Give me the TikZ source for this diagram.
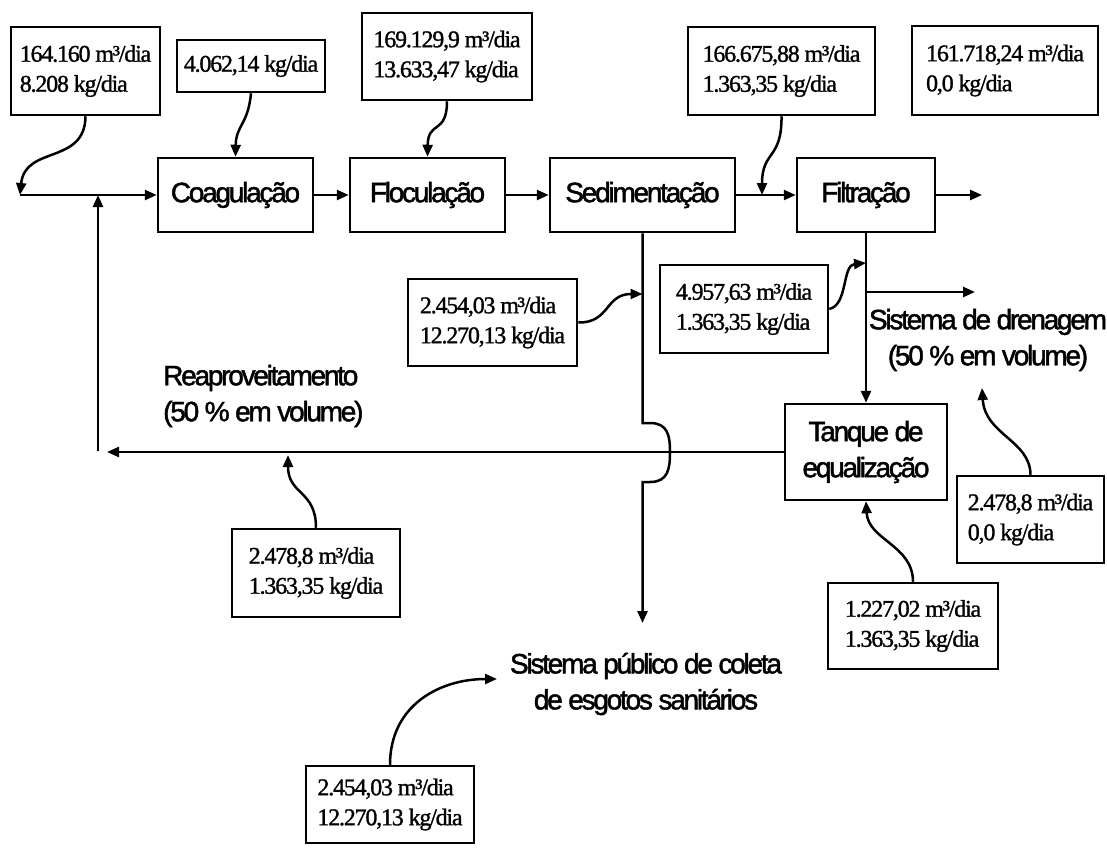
\documentclass[tikz,border=0pt]{standalone}
\usepackage{fontspec}
\usetikzlibrary{arrows.meta}
\newfontfamily\numfont[LetterSpace=-5,FakeBold=1.2]{Liberation Serif}
\newfontfamily\labfont[LetterSpace=-8,FakeBold=1.6]{Liberation Sans}
% quantity box: name, x1, y1, x2, y2, text
\newcommand\quantbox[6]{%
  \pgfmathsetmacro\qbw{#4-#2}\pgfmathsetmacro\qbh{#5-#3}%
  \node[numbox,minimum width=\qbw pt,minimum height=\qbh pt]
    (#1) at ({(#2+#4)/2},{(#3+#5)/2}) {#6};}
% process box: name, x1, y1, x2, y2, text
\newcommand\procbox[6]{%
  \pgfmathsetmacro\qbw{#4-#2}\pgfmathsetmacro\qbh{#5-#3}%
  \node[stagebox,minimum width=\qbw pt,minimum height=\qbh pt]
    (#1) at ({(#2+#4)/2},{(#3+#5)/2}) {#6};}
\begin{document}
\begin{tikzpicture}[x=1pt,y=-1pt,
  numbox/.style={draw,line width=2.5pt,font=\numfont\fontsize{24}{30}\selectfont,
    align=left,inner sep=0pt},
  stagebox/.style={draw,line width=2.5pt,font=\labfont\fontsize{28}{36}\selectfont,
    align=center,inner sep=0pt},
  lab/.style={font=\labfont\fontsize{28}{36}\selectfont,inner sep=0pt},
  flow/.style={line width=2.5pt,-{Triangle[length=12pt,width=10pt]}}]
\useasboundingbox (0,0) rectangle (1107,851);

% treatment stages
\procbox{coag}{158}{158}{313}{232}{Coagulação}
\procbox{floc}{350}{158}{505}{232}{Floculação}
\procbox{sed}{550}{158}{735}{232}{Sedimentação}
\procbox{filt}{797}{158}{935}{232}{Filtração}
\procbox{tank}{785}{404}{947}{500}{Tanque de\\equalização}

% flow quantities
\quantbox{q1}{11}{27}{160}{115}{164.160 m³/dia\\8.208 kg/dia}
\quantbox{q2}{177}{40}{325}{92}{4.062,14 kg/dia}
\quantbox{q3}{362}{13}{532}{100}{169.129,9 m³/dia\\13.633,47 kg/dia}
\quantbox{q4}{688}{27}{875}{115}{166.675,88 m³/dia\\1.363,35 kg/dia}
\quantbox{q5}{912}{26}{1098}{115}{161.718,24 m³/dia\\0,0 kg/dia}
\quantbox{q6}{408}{279}{577}{366}{2.454,03 m³/dia\\12.270,13 kg/dia}
\quantbox{q7}{660}{265}{828}{353}{4.957,63 m³/dia\\1.363,35 kg/dia}
\quantbox{q8}{232}{529}{400}{617}{2.478,8 m³/dia\\1.363,35 kg/dia}
\quantbox{q9}{957}{476}{1104}{563}{2.478,8 m³/dia\\0,0 kg/dia}
\quantbox{q10}{828}{583}{998}{669}{1.227,02 m³/dia\\1.363,35 kg/dia}
\quantbox{q11}{306}{766}{474}{843}{2.454,03 m³/dia\\12.270,13 kg/dia}

% destinations
\node[lab,align=left,anchor=west] (reuse) at (163,396) {Reaproveitamento\\(50 \% em volume)};
\node[lab,align=center] (drain) at (988,340) {Sistema de drenagem\\(50 \% em volume)};
\node[lab,align=center] (sewer) at (646,684) {Sistema público de coleta\\de esgotos sanitários};

% junction points
\coordinate (feed) at (20,195);
\coordinate (retup) at (98,195);
\coordinate (retbot) at (98,451);
\coordinate (retend) at (107,452);
\coordinate (filtin) at (762,195);
\coordinate (final) at (982,195);
\coordinate (sedsplit) at (642.5,294);
\coordinate (filtsplit) at (866,263);
\coordinate (drainfork) at (866,292);
\coordinate (drainend) at (975,292);
\coordinate (reusein) at (288,455);
\coordinate (drainin) at (982,388);
\coordinate (sewerend) at (642.5,623);
\coordinate (sewerin) at (497,679);

% main line
\draw[flow] (feed) -- (coag.west);
\draw[flow] (coag.east) -- (floc.west);
\draw[flow] (floc.east) -- (sed.west);
\draw[flow] (sed.east) -- (filt.west);
\draw[flow] (filt.east) -- (final);

% recycle line
\draw[flow] (tank.west) -- (retend);
\draw[flow] (retbot) -- (retup);

% sludge line with crossing hop
\draw[flow] (sed.south) -- (642.5,423) -- (650,423)
  .. controls (668,423) and (670,436) .. (670,452)
  .. controls (670,469) and (668,482) .. (650,482)
  -- (642.5,482) -- (sewerend);

% filter backwash line
\draw[flow] (filt.south) -- (tank.north);
\draw[flow] (drainfork) -- (drainend);

% quantity pointers
\draw[flow] (q1.south) .. controls (85,165) and (25,145) .. (feed);
\draw[flow] (q2.south) .. controls (248,125) and (236,125) .. (coag.north);
\draw[flow] (q3.south) .. controls (447,135) and (428,120) .. (floc.north);
\draw[flow] (q4.south) .. controls (782,160) and (762,150) .. (filtin);
\draw[flow] (q6.east) .. controls (610,323) and (605,294) .. (sedsplit);
\draw[flow] (q7.east) .. controls (848,305) and (842,265) .. (filtsplit);
\draw[flow] (q8.north) .. controls (316,490) and (288,495) .. (reusein);
\draw[flow] (q9.north) .. controls (1030,440) and (985,435) .. (drainin);
\draw[flow] (q10.north) .. controls (913,545) and (868,540) .. (tank.south);
\draw[flow] (q11.north) .. controls (390,705) and (440,679) .. (sewerin);
\end{tikzpicture}
\end{document}
